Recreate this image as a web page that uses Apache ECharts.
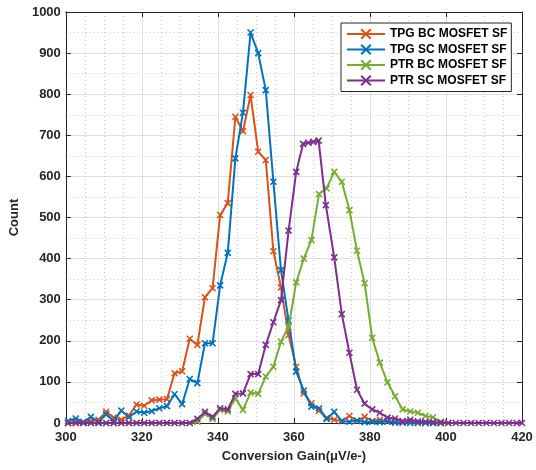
<!DOCTYPE html>
<html>
<head>
<meta charset="utf-8">
<script src="https://cdn.jsdelivr.net/npm/echarts@6/dist/echarts.min.js"></script>
<style>html,body{margin:0;padding:0;background:#fff;}#c{width:536px;height:470px;}</style>
</head>
<body>
<div id="c"></div>
<script>
// ---- data ----
const seriesNames = ['TPG BC MOSFET SF', 'TPG SC MOSFET SF', 'PTR BC MOSFET SF', 'PTR SC MOSFET SF'];
const seriesColors = ['#D95319', '#0072BD', '#77AC30', '#7E2F8E'];

const tpgX = [300.6,302.6,304.6,306.6,308.6,310.6,312.6,314.6,316.6,318.6,
              320.6,322.6,324.6,326.6,328.6,330.6,332.6,334.6,336.6,338.6,
              340.6,342.6,344.6,346.6,348.6,350.6,352.6,354.6,356.6,358.6,
              360.6,362.6,364.6,366.6,368.6,370.6,372.6,374.6,376.6,378.6,
              380.6,382.6,384.6,386.6,388.6,390.6,392.6,394.6,396.6,398.6];
const tpgBcY = [0,3,2,5,8,27,13,8,18,45,
                42,55,57,58,121,126,205,190,306,328,
                506,535,745,710,798,660,640,418,330,214,
                137,72,48,30,12,8,5,17,5,15,
                5,8,3,2,0,3,0,1,0,0];
const tpgScY = [5,11,2,15,3,21,5,30,14,28,
                25,29,36,41,70,46,107,97,194,194,
                335,414,644,755,950,900,810,587,372,249,
                125,79,40,36,10,27,5,3,6,2,
                3,2,4,1,2,0,1,0,0,0];

const ptrBcX = [300.6,302.6,304.6,306.6,308.6,310.6,312.6,314.6,316.6,318.6,
                320.6,322.6,324.6,326.6,328.6,330.6,332.6,334.6,336.6,338.6,
                340.6,342.6,344.6,346.6,348.6,350.6,352.6,354.6,356.6,358.6,
                360.6,362.6,364.6,366.6,368.6,370.6,372.6,374.6,376.6,378.6,
                380.6,382.6,384.6,386.6,388.6,390.6,392.6,394.6,396.6,398.6,400.6];
const ptrBcY = [0,0,0,0,0,0,0,0,0,0,
                0,0,0,0,0,0,0,3,22,10,
                32,28,60,32,74,71,113,137,198,234,
                342,400,445,557,571,611,587,518,419,340,
                207,147,99,65,33,28,25,17,14,3,0];

const ptrScX = [300.6,302.6,304.6,306.6,308.6,310.6,312.6,314.6,316.6,318.6,
                320.6,322.6,324.6,326.6,328.6,330.6,332.6,334.6,336.6,338.6,
                340.6,342.6,344.6,346.6,348.6,350.6,352.6,354.6,356.6,358.6,
                360.6,362.4,363.8,365.1,366.5,368.4,370.6,372.6,374.6,376.6,
                378.6,380.6,382.6,384.6,386.6,388.6,390.6,392.6,394.6,396.6,
                398.6,400.6,402.6,404.6,406.6,408.6,410.6,412.6,414.6,416.6,418.6,420];
const ptrScY = [0,0,0,0,0,0,0,0,0,0,
                0,0,0,0,0,0,0,10,27,15,
                36,33,71,72,119,119,190,245,299,468,
                611,679,682,684,687,530,403,265,171,81,
                47,33,25,13,11,5,8,4,3,2,
                1,0,0,0,0,0,0,0,0,0,0,0];

const xTicks = [300, 320, 340, 360, 380, 400, 420];
const yTicks = [0, 100, 200, 300, 400, 500, 600, 700, 800, 900, 1000];

// ---- chart ----
const chart = echarts.init(document.getElementById('c'), null, {renderer: 'canvas'});
const FONT = 'Liberation Sans, Arial, Helvetica, sans-serif';
const AX = '#262626';
const xSym = 'path://M0,0L10,10M0,10L10,0';

function mk(xs, ys) { return xs.map((x, i) => [x, ys[i]]); }
const allData = [mk(tpgX, tpgBcY), mk(tpgX, tpgScY), mk(ptrBcX, ptrBcY), mk(ptrScX, ptrScY)];

const series = allData.map((d, i) => ({
  name: seriesNames[i],
  type: 'line',
  data: d,
  symbol: xSym,
  symbolSize: 6,
  showAllSymbol: true,
  lineStyle: {color: seriesColors[i], width: 2},
  itemStyle: {color: seriesColors[i], borderColor: seriesColors[i], borderWidth: 1.6},
  emphasis: {disabled: true},
  z: 2 + i
}));

const baseX = {
  type: 'value', min: 300, max: 420, interval: 20
};
const baseY = {
  type: 'value', min: 0, max: 1000, interval: 100
};

chart.setOption({
  animation: false,
  backgroundColor: '#fff',
  grid: {left: 61, right: 14, top: 12, bottom: 47, containLabel: false},
  legend: {
    data: seriesNames,
    orient: 'vertical',
    left: 341, top: 23,
    padding: [5, 4, 5, 5],
    itemWidth: 38, itemHeight: 12, itemGap: 3.5,
    backgroundColor: '#fff',
    borderColor: '#262626', borderWidth: 1,
    textStyle: {fontFamily: FONT, fontWeight: 'bold', fontSize: 12, color: '#000'}
  },
  xAxis: [
    Object.assign({}, baseX, {
      position: 'bottom',
      name: 'Conversion Gain(μV/e-)',
      nameLocation: 'middle', nameGap: 27,
      nameTextStyle: {fontFamily: FONT, fontWeight: 'bold', fontSize: 13, color: '#262626'},
      axisLine: {show: true, lineStyle: {color: AX, width: 1}},
      axisTick: {show: true, inside: true, length: 5, lineStyle: {color: AX}},
      axisLabel: {fontFamily: FONT, fontWeight: 'bold', fontSize: 13, color: '#262626', margin: 8,
                  formatter: v => xTicks.includes(v) ? String(v) : ''},
      splitLine: {show: true, lineStyle: {color: '#dfdfdf', width: 1}},
      minorTick: {show: false, splitNumber: 4},
      minorSplitLine: {show: true, lineStyle: {color: '#c8c8c8', type: [1, 3], width: 1}}
    }),
    Object.assign({}, baseX, {
      position: 'top',
      axisLine: {show: true, onZero: false, lineStyle: {color: AX, width: 1}},
      axisTick: {show: true, inside: true, length: 5, lineStyle: {color: AX}},
      axisLabel: {show: false},
      splitLine: {show: false}
    })
  ],
  yAxis: [
    Object.assign({}, baseY, {
      position: 'left',
      name: 'Count',
      nameLocation: 'middle', nameGap: 38,
      nameTextStyle: {fontFamily: FONT, fontWeight: 'bold', fontSize: 13, color: '#262626'},
      axisLine: {show: true, lineStyle: {color: AX, width: 1}},
      axisTick: {show: true, inside: true, length: 5, lineStyle: {color: AX}},
      axisLabel: {fontFamily: FONT, fontWeight: 'bold', fontSize: 13, color: '#262626', margin: 5,
                  formatter: v => yTicks.includes(v) ? String(v) : ''},
      splitLine: {show: true, lineStyle: {color: '#dfdfdf', width: 1}},
      minorTick: {show: false, splitNumber: 2},
      minorSplitLine: {show: true, lineStyle: {color: '#c8c8c8', type: [1, 3], width: 1}}
    }),
    Object.assign({}, baseY, {
      position: 'right',
      axisLine: {show: true, onZero: false, lineStyle: {color: AX, width: 1}},
      axisTick: {show: true, inside: true, length: 5, lineStyle: {color: AX}},
      axisLabel: {show: false},
      splitLine: {show: false}
    })
  ],
  series: series
});
</script>
</body>
</html>
